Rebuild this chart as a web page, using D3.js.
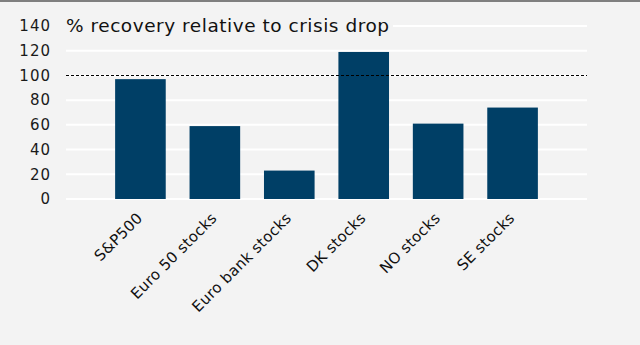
<!DOCTYPE html>
<html>
<head>
<meta charset="utf-8">
<script src="https://cdn.jsdelivr.net/npm/d3@7"></script>
<style>
  html, body { margin: 0; padding: 0; background: #f3f3f3; }
  svg { display: block; }
</style>
</head>
<body>
<svg id="chart" width="640" height="345"></svg>
<script>
// Recovery since the crisis low, as % of the crisis drop
const categories = ["S&P500", "Euro 50 stocks", "Euro bank stocks", "DK stocks", "NO stocks", "SE stocks"];
const recovery = [97, 59, 23, 119, 61, 74];
const yTicks = [0, 20, 40, 60, 80, 100, 120, 140];
const referenceLevel = 100;
const title = "% recovery relative to crisis drop";

const width = 640, height = 345;
const margin = { top: 26, right: 53, bottom: 146, left: 66 };
const svg = d3.select("#chart");
const fontFamily = "'DejaVu Sans', Verdana, sans-serif";

// page background and top rule
svg.append("rect").attr("width", width).attr("height", height).attr("fill", "#f3f3f3");
svg.append("rect").attr("width", width).attr("height", 2).attr("fill", "#7f7f7f");

const x = d3.scaleBand()
  .domain(categories)
  .range([margin.left, width - margin.right])
  .paddingInner(0.32)
  .paddingOuter(0.66);

const y = d3.scaleLinear()
  .domain([0, 140])
  .range([height - margin.bottom, margin.top]);

// horizontal gridlines
svg.append("g")
  .selectAll("line")
  .data(yTicks)
  .join("line")
  .attr("x1", margin.left)
  .attr("x2", width - margin.right)
  .attr("y1", d => y(d))
  .attr("y2", d => y(d))
  .attr("stroke", "#ffffff")
  .attr("stroke-width", 2);

// y axis labels
const yAxis = d3.axisLeft(y).tickValues(yTicks).tickSize(0).tickPadding(0);
const yg = svg.append("g")
  .attr("transform", `translate(${margin.left - 15},0)`)
  .call(yAxis);
yg.select(".domain").remove();
yg.selectAll("text")
  .attr("font-family", fontFamily)
  .attr("font-size", 15)
  .attr("letter-spacing", 1)
  .attr("fill", "#1a1a1a");

// bars
svg.append("g")
  .selectAll("rect")
  .data(categories.map((c, i) => ({ c, v: recovery[i] })))
  .join("rect")
  .attr("x", d => x(d.c))
  .attr("width", x.bandwidth())
  .attr("y", d => y(d.v))
  .attr("height", d => y(0) - y(d.v))
  .attr("fill", "#003f66");

// dashed 100% reference line
svg.append("line")
  .attr("x1", margin.left)
  .attr("x2", width - margin.right)
  .attr("y1", Math.round(y(referenceLevel)) + 0.5)
  .attr("y2", Math.round(y(referenceLevel)) + 0.5)
  .attr("stroke", "#000")
  .attr("stroke-width", 1)
  .attr("stroke-dasharray", "3,2");

// x axis labels, rotated
const xAxis = d3.axisBottom(x).tickSize(0).tickPadding(0);
const xg = svg.append("g")
  .attr("transform", `translate(0,${y(0)})`)
  .call(xAxis);
xg.select(".domain").remove();
xg.selectAll("text")
  .attr("font-family", fontFamily)
  .attr("font-size", 15)
  .attr("letter-spacing", 0.3)
  .attr("fill", "#111")
  .attr("text-anchor", "end")
  .attr("dy", null)
  .attr("y", 0)
  .attr("transform", "translate(3,20) rotate(-45)");

// chart title on a background patch that hides the top gridline beneath it
svg.append("rect")
  .attr("x", 60).attr("y", 14)
  .attr("width", 333).attr("height", 24)
  .attr("fill", "#f3f3f3");
svg.append("text")
  .attr("x", 66)
  .attr("y", 32)
  .attr("font-family", fontFamily)
  .attr("font-size", 18.5)
  .attr("fill", "#111")
  .attr("textLength", 323)
  .attr("lengthAdjust", "spacing")
  .text(title);
</script>
</body>
</html>
